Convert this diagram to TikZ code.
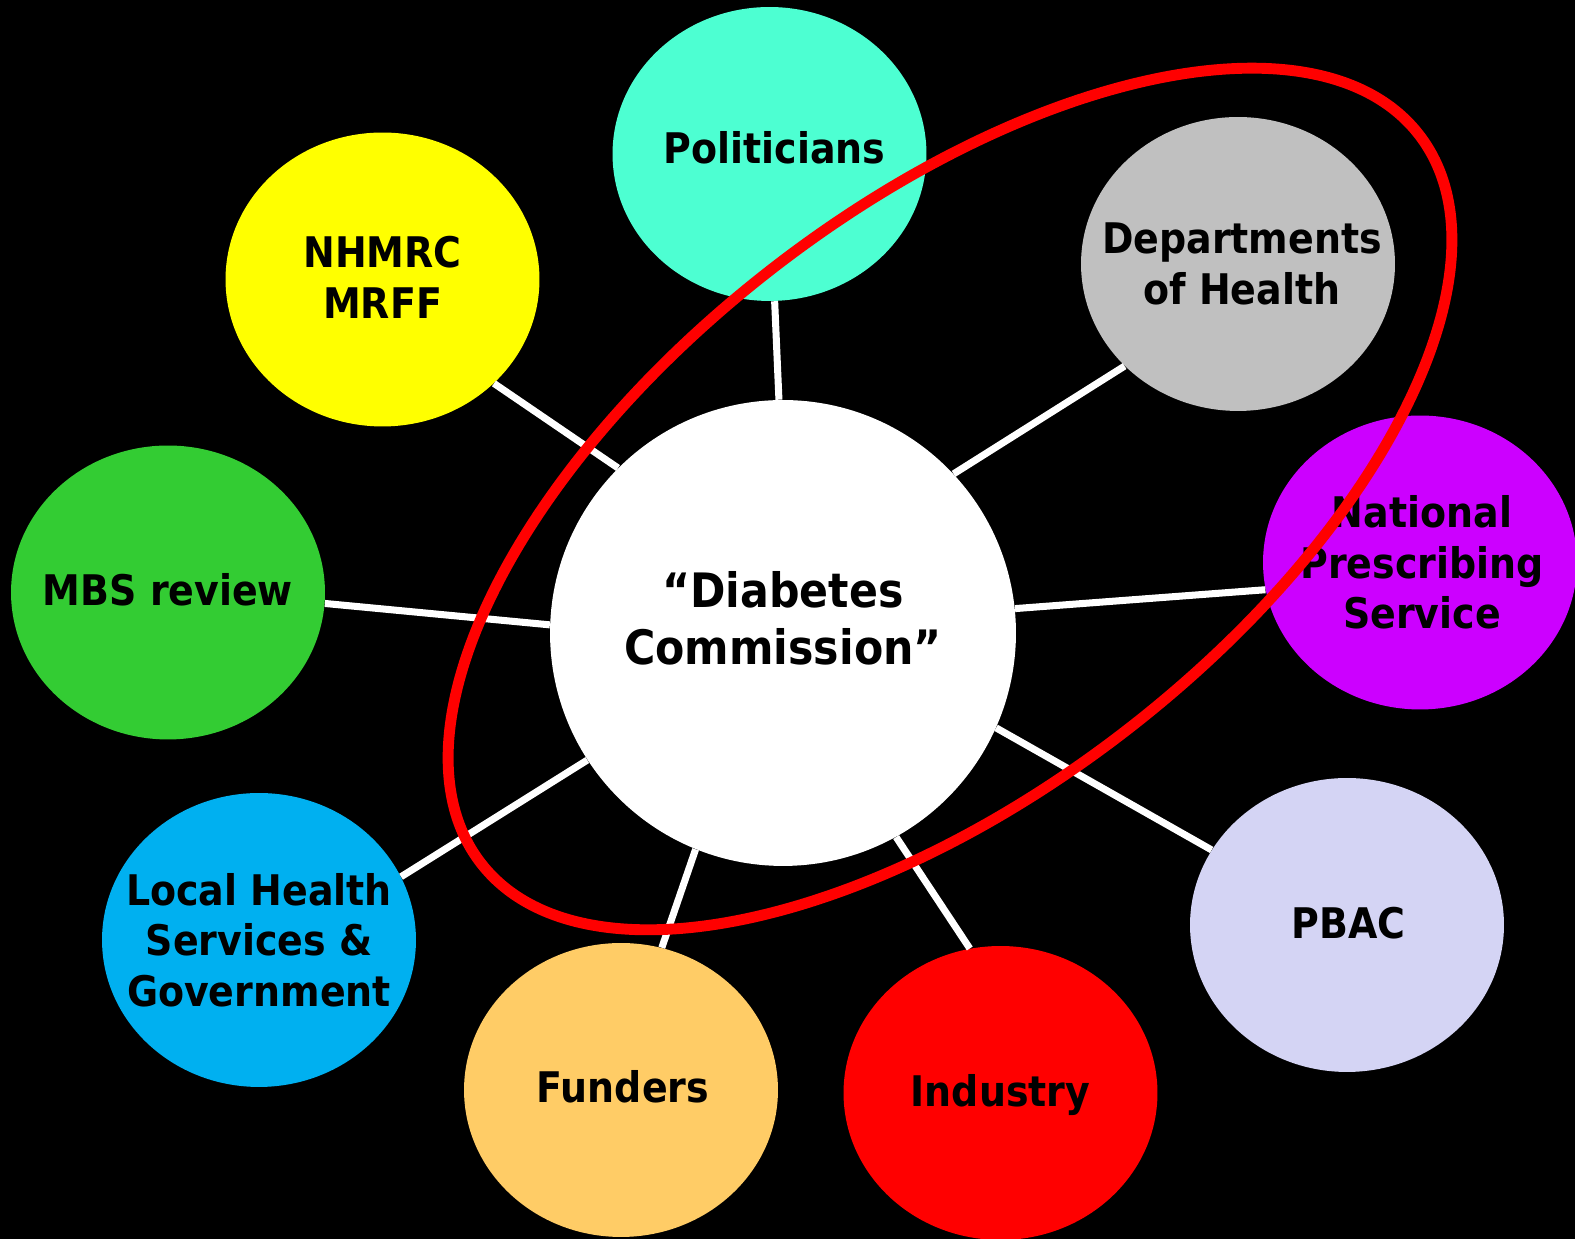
\documentclass[tikz,border=0pt]{standalone}
\usepackage{fontspec}
\setmainfont{DejaVu Sans Condensed}
\usetikzlibrary{shapes.geometric}

\definecolor{cPol}{HTML}{4DFFD2}
\definecolor{cNhm}{HTML}{FFFF00}
\definecolor{cDep}{HTML}{C0C0C0}
\definecolor{cMbs}{HTML}{33CC33}
\definecolor{cNps}{HTML}{CC00FF}
\definecolor{cLhs}{HTML}{00B0F0}
\definecolor{cFun}{HTML}{FFCC66}
\definecolor{cInd}{HTML}{FF0000}
\definecolor{cPbac}{HTML}{D4D4F4}
\definecolor{cRing}{HTML}{FF0000}

\tikzset{
  blob/.style={ellipse, draw=none, inner sep=0pt,
    minimum width=6.28cm, minimum height=5.88cm},
  hub/.style={circle, fill=white, draw=none, inner sep=0pt, minimum size=9.32cm},
  txt/.style={align=center, font=\fontsize{24pt}{28.8pt}\selectfont\bfseries, text=black},
  hubtxt/.style={align=center, font=\fontsize{27pt}{32.5pt}\selectfont\bfseries, text=black},
  conn/.style={draw=white, line width=4pt},
  ring/.style={draw=cRing, line width=6.2pt}
}

\begin{document}
\begin{tikzpicture}[x=0.02cm, y=0.02cm]
  \fill[black] (0,0) rectangle (1575,1239);
  \useasboundingbox (0,0) rectangle (1575,1239);

  % central hub
  \node[hub] (hub) at (783,606) {};
  \node[hubtxt] (hubt) at (783,621) {“Diabetes\\Commission”};

  % surrounding stakeholders
  \node[blob, fill=cPol] (pol) at (769.5,1085) {};
  \node[txt] (polt) at ([xshift=0.1cm, yshift=0.13cm]pol.center) {Politicians};

  \node[blob, fill=cNhm] (nhm) at (382.5,959.5) {};
  \node[txt] (nhmt) at ([yshift=0.04cm]nhm.center) {NHMRC\\MRFF};

  \node[blob, fill=cDep] (dep) at (1238,975) {};
  \node[txt] (dept) at ([xshift=0.08cm]dep.center) {Departments\\of Health};

  \node[blob, fill=cMbs] (mbs) at (168,646.5) {};
  \node[txt] (mbst) at ([yshift=0.05cm]mbs.center) {MBS review};

  \node[blob, fill=cNps] (nps) at (1420,676.5) {};
  \node[txt] (npst) at ([xshift=0.04cm]nps.center) {National\\Prescribing\\Service};

  \node[blob, fill=cLhs] (lhs) at (259,299) {};
  \node[txt] (lhst) at (lhs.center) {Local Health\\Services \&\\Government};

  \node[blob, fill=cFun] (fun) at (621,149) {};
  \node[txt] (funt) at ([xshift=0.04cm, yshift=0.06cm]fun.center) {Funders};

  \node[blob, fill=cInd] (ind) at (1000.5,146) {};
  \node[txt] (indt) at ([yshift=-0.05cm]ind.center) {Industry};

  \node[blob, fill=cPbac] (pbac) at (1347,314) {};
  \node[txt] (pbact) at ([xshift=0.03cm, yshift=0.04cm]pbac.center) {PBAC};

  % spokes
  \draw[conn] (hub.91)  -- (pol.-88);
  \draw[conn] (hub.135) -- (nhm.-43);
  \draw[conn] (hub.43)  -- (dep.222);
  \draw[conn] (hub.178) -- (mbs.-4.5);
  \draw[conn] (hub.6)   -- (nps.190);
  \draw[conn] (hub.213) -- (lhs.24);
  \draw[conn] (hub.248) -- (fun.74);
  \draw[conn] (hub.-61) -- (ind.102);
  \draw[conn] (hub.-24) -- (pbac.151);

  % highlighting ring
  \draw[ring, rotate around={37.85:(950,740)}] (950,740) ellipse [x radius=11.88cm, y radius=5.82cm];
\end{tikzpicture}
\end{document}
